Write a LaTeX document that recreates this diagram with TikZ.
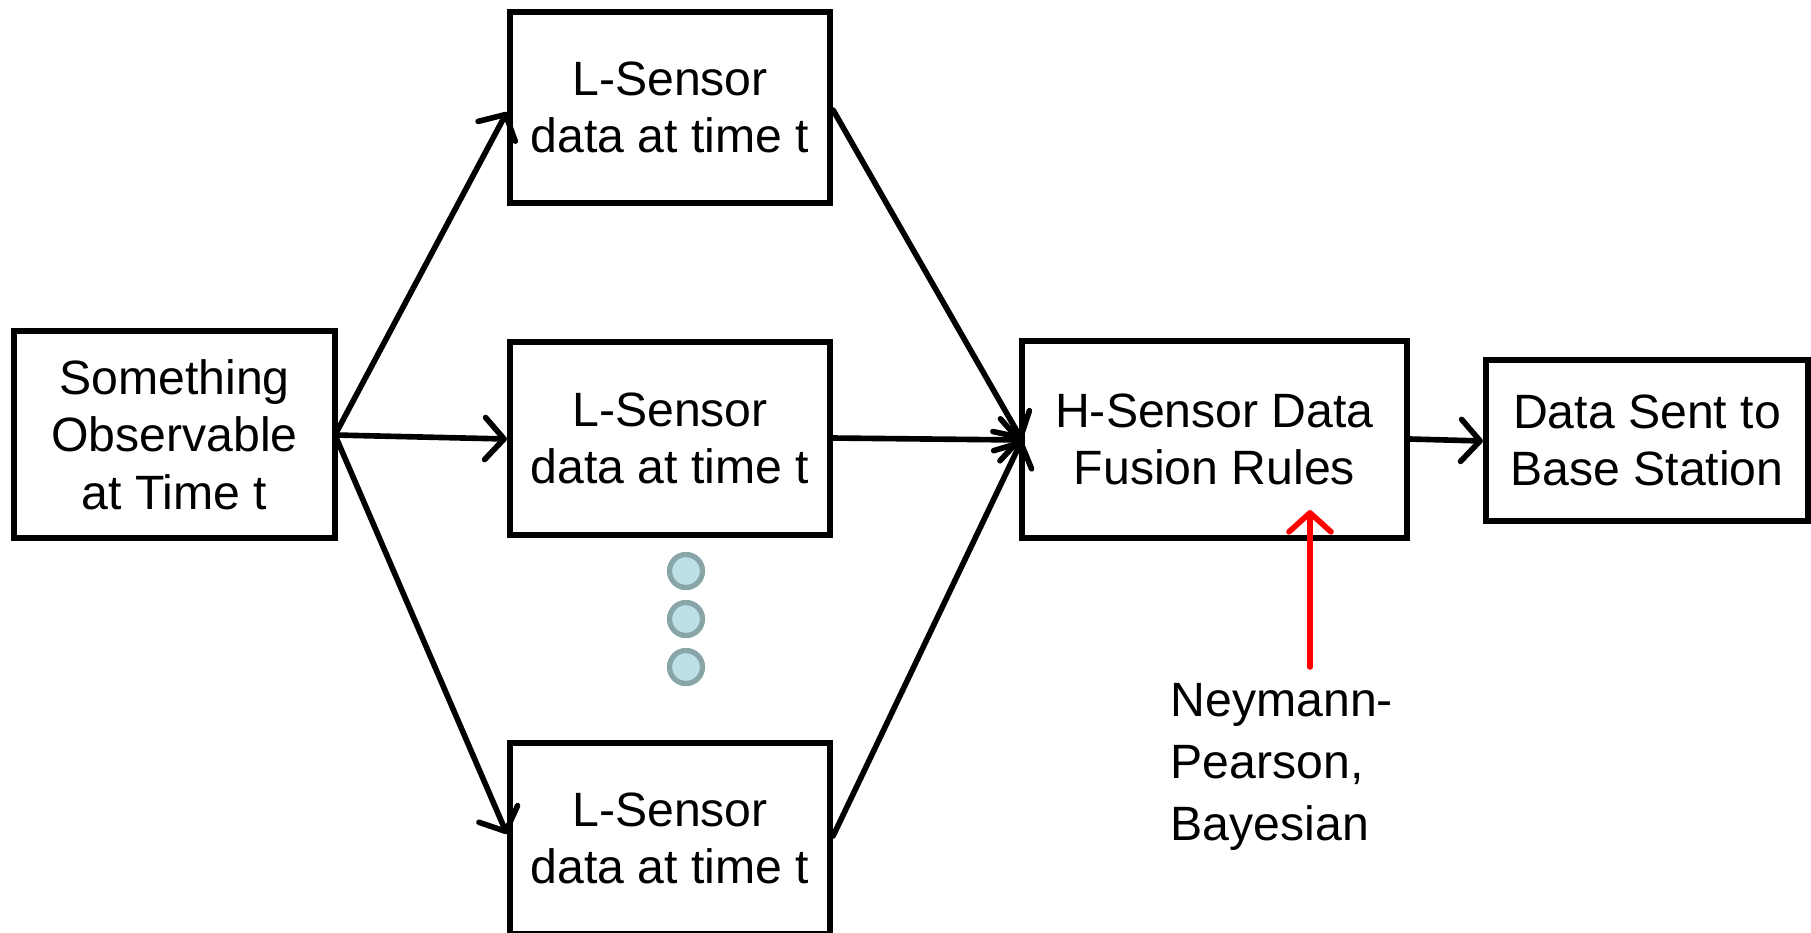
\documentclass[tikz,border=0pt]{standalone}
\usepackage{fontspec}
\setmainfont{Liberation Sans}
\usetikzlibrary{arrows.meta}
\definecolor{dotfill}{HTML}{BDDFE6}
\definecolor{dotline}{HTML}{88A6A8}
\begin{document}
\begin{tikzpicture}[x=0.01cm,y=-0.01cm,
  every node/.style={font=\fontsize{13.7}{16.4}\selectfont},
  blockbox/.style={draw=black,line width=1.7pt,align=center,inner sep=0pt},
  tip/.style={-{Straight Barb[length=1.9mm,width=4.2mm,line width=1.6pt,round]}},
  flow/.style={line width=1.6pt,line cap=round,tip},
  dotmark/.style={circle,draw=dotline,fill=dotfill,line width=1.5pt,
    minimum size=0.33cm,inner sep=0pt}]
  \useasboundingbox (0,0) rectangle (1811,932);

  % boxes
  \node[blockbox,minimum width=3.21cm,minimum height=2.07cm] (obs) at (174.5,434.5)
    {Something\\Observable\\at Time t};
  \node[blockbox,minimum width=3.20cm,minimum height=1.91cm] (l1) at (670,107.5)
    {L-Sensor\\data at time t};
  \node[blockbox,minimum width=3.20cm,minimum height=1.93cm] (l2) at (670,438.5)
    {L-Sensor\\data at time t};
  \node[blockbox,minimum width=3.20cm,minimum height=1.91cm] (l3) at (670,838.5)
    {L-Sensor\\data at time t};
  \node[blockbox,minimum width=3.85cm,minimum height=1.97cm] (hs) at (1214.5,439.5)
    {H-Sensor Data\\Fusion Rules};
  \node[blockbox,minimum width=3.22cm,minimum height=1.61cm] (bs) at (1647,440.5)
    {Data Sent to\\Base Station};

  % ellipsis dots between the sensors
  \node[dotmark] (d1) at (686,571) {};
  \node[dotmark] (d2) at (686,619) {};
  \node[dotmark] (d3) at (686,667) {};

  % annotation for the fusion rules (base anchor sits on the last line)
  \node[anchor=base west,align=left,inner sep=0pt,
        font=\fontsize{13.7}{17.5}\selectfont] (np) at (1170,840)
    {Neymann-\\Pearson,\\Bayesian};
  \coordinate (rs) at (1310,667);
  \coordinate (re) at (1310,510);

  % connectors
  \coordinate (src) at (335,435);
  \draw[flow] (src) -- (l1.west |- 0,112);
  \draw[flow] (src) -- (l2.west |- 0,439);
  \draw[flow] (src) -- (l3.west |- 0,834);
  \coordinate (hin) at (1022,440);
  \draw[flow] (l1.east |- 0,110) -- (hin);
  \draw[flow] (l2.east |- 0,438) -- (hin);
  \draw[flow] (l3.east |- 0,836) -- (hin);
  \draw[flow] (hs.east |- 0,439) -- (bs.west |- 0,441);
  \draw[flow,red] (rs) -- (re);
\end{tikzpicture}
\end{document}
